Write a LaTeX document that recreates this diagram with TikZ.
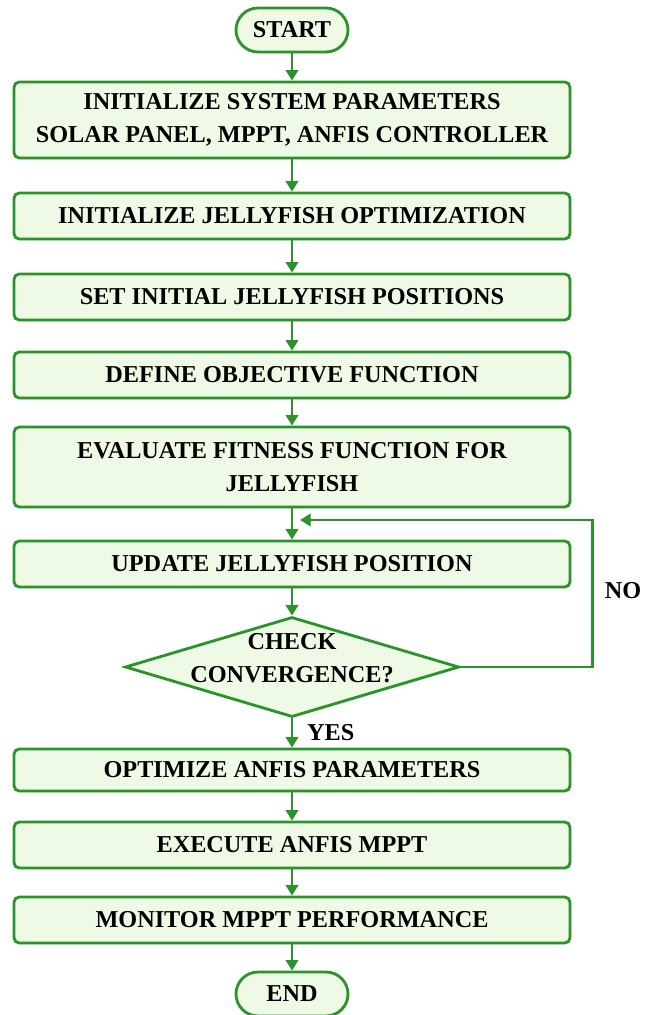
\documentclass[tikz,border=0pt]{standalone}
\usepackage{fontspec}
\setmainfont{Liberation Serif}
\usetikzlibrary{arrows.meta,shapes.geometric,shadows}
\definecolor{leaf}{RGB}{42,148,42}
\definecolor{mint}{RGB}{238,250,230}

\begin{document}
\begin{tikzpicture}[
    label text/.style={font=\fontsize{13.8}{19}\selectfont\bfseries, align=center},
    box/.style={label text, draw=leaf, line width=1.6pt, fill=mint, rounded corners=3pt,
        minimum width=11.12cm, minimum height=0.92cm,
        drop shadow={opacity=0.25, shadow xshift=0.6pt, shadow yshift=-0.8pt}},
    term/.style={box, rounded corners=0.44cm, minimum width=2.24cm, minimum height=0.88cm},
    decision/.style={box, diamond, rounded corners=0pt, aspect=3.34,
        minimum width=6.68cm, minimum height=2cm, inner sep=0pt},
    flow/.style={leaf, line width=1.6pt, -{Triangle[length=6pt,width=7pt]}}
]
    \useasboundingbox (0,0) rectangle (13.02,-20.3);

    \node[term] (start) at (5.84,-0.60) {START};
    \node[box, minimum height=1.52cm] (S1) at (5.84,-2.40) {INITIALIZE SYSTEM PARAMETERS\\SOLAR PANEL, MPPT, ANFIS CONTROLLER};
    \node[box] (S2) at (5.84,-4.32) {INITIALIZE JELLYFISH OPTIMIZATION};
    \node[box] (S3) at (5.84,-5.94) {SET INITIAL JELLYFISH POSITIONS};
    \node[box] (S4) at (5.84,-7.50) {DEFINE OBJECTIVE FUNCTION};
    \node[box, minimum height=1.6cm] (S5) at (5.84,-9.34) {EVALUATE FITNESS FUNCTION FOR\\JELLYFISH};
    \node[box] (S6) at (5.84,-11.28) {UPDATE JELLYFISH POSITION};
    \node[decision] (check) at (5.84,-13.34) {};
    \node[label text] (checktext) at ([yshift=5pt]check.center) {CHECK\\CONVERGENCE?};
    \node[box, minimum height=0.84cm] (S7) at (5.84,-15.40) {OPTIMIZE ANFIS PARAMETERS};
    \node[box] (S8) at (5.84,-16.90) {EXECUTE ANFIS MPPT};
    \node[box] (S9) at (5.84,-18.40) {MONITOR MPPT PERFORMANCE};
    \node[term] (end) at (5.84,-19.88) {END};

    \foreach \a/\b in {start/S1, S1/S2, S2/S3, S3/S4, S4/S5, S5/S6, S6/check, check/S7, S7/S8, S8/S9, S9/end} {
        \draw[flow] (\a) -- (\b);
    }

    % NO: back to the update step
    \coordinate (back) at (6.0,-10.40);
    \draw[flow] (check.east) -- ++(2.64,0) |- (back);
    \node[label text] (no) at (12.46,-11.82) {NO};
    \node[label text, anchor=west] (yes) at (6.02,-14.66) {YES};
\end{tikzpicture}
\end{document}
